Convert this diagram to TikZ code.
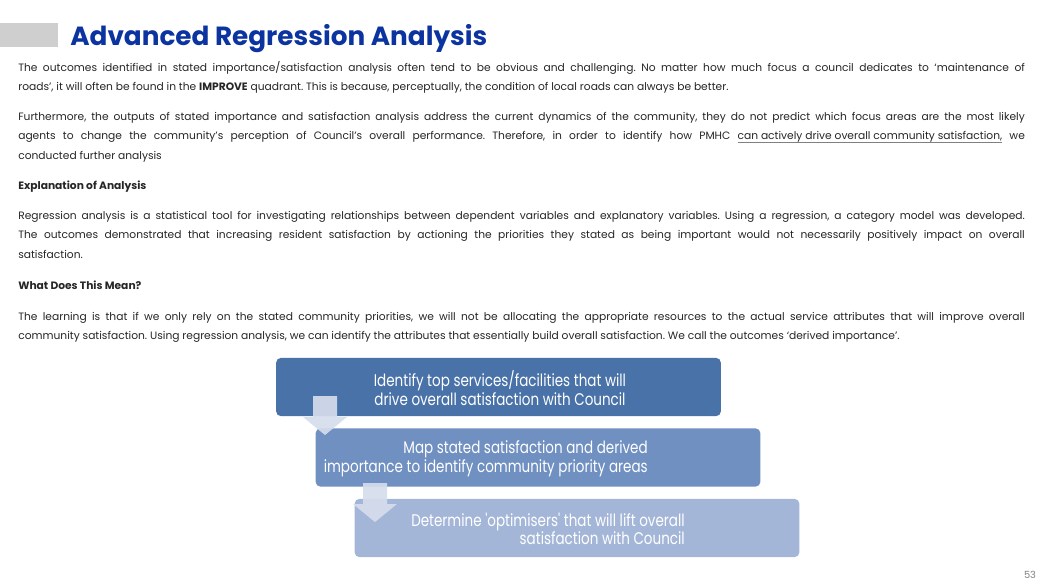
\documentclass[tikz,border=0pt]{standalone}
\usepackage{fontspec}
\setmainfont{Poppins}
\newfontfamily\boxfont{Poppins}[FakeStretch=0.8]
\usepackage{xcolor}
\usetikzlibrary{positioning}
\definecolor{titleblue}{RGB}{12,52,160}
\definecolor{bodygray}{RGB}{38,38,38}
\definecolor{stepA}{RGB}{73,114,168}
\definecolor{stepB}{RGB}{112,144,194}
\definecolor{stepC}{RGB}{164,182,216}
\definecolor{arrowfill}{RGB}{213,221,236}
\frenchspacing
\newsavebox\ulinebox
\newcommand\ulinetext[1]{\sbox\ulinebox{#1}\rlap{\color{gray}\rule[-1.6pt]{\wd\ulinebox}{0.4pt}}\usebox\ulinebox}

\begin{document}
\begin{tikzpicture}[x=0.25mm,y=-0.25mm,
	para/.style={anchor=base west,inner sep=0,text width=716pt,align=justify,
		font=\fontsize{7.6}{14.2}\selectfont,text=bodygray},
	stepbox/.style={rounded corners=3.5pt,minimum width=316.4pt,minimum height=41.5pt,inner sep=0},
	steptext/.style={inner sep=0,text=white,font=\boxfont\fontsize{12}{12.1}\selectfont},
	flowarrow/.style={fill=arrowfill,fill opacity=0.92}]
	\useasboundingbox (0,0) rectangle (1042,586);
	\fill[lightgray!75] (0,23) rectangle (58,47);
	\node[anchor=base west,inner sep=0,text=titleblue,font=\fontsize{18.7}{20}\selectfont\bfseries] (title) at (70,45) {Advanced Regression Analysis};
	\node[para] (p1) at (18,71) {The outcomes identified in stated importance/satisfaction analysis often tend to be obvious and challenging. No matter how much focus a council dedicates to ‘maintenance of\linebreak roads’, it will often be found in the \textbf{IMPROVE} quadrant. This is because, perceptually, the condition of local roads can always be better.};
	\node[para] (p2) at (18,120) {Furthermore, the outputs of stated importance and satisfaction analysis address the current dynamics of the community, they do not predict which focus areas are the most likely\linebreak agents to change the community’s perception of Council’s overall performance. Therefore, in order to identify how PMHC \ulinetext{can actively drive overall community satisfaction,} we\linebreak conducted further analysis};
	\node[para] (h1) at (18,189) {\textbf{Explanation of Analysis}};
	\node[para] (p3) at (18,219) {Regression analysis is a statistical tool for investigating relationships between dependent variables and explanatory variables. Using a regression, a category model was developed.\linebreak The outcomes demonstrated that increasing resident satisfaction by actioning the priorities they stated as being important would not necessarily positively impact on overall\linebreak satisfaction.};
	\node[para] (h2) at (18,289) {\textbf{What Does This Mean?}};
	\node[para] (p4) at (18,320) {The learning is that if we only rely on the stated community priorities, we will not be allocating the appropriate resources to the actual service attributes that will improve overall\linebreak community satisfaction. Using regression analysis, we can identify the attributes that essentially build overall satisfaction. We call the outcomes ‘derived importance’.};
	\node[stepbox,fill=stepA] (step1) at (498.5,387) {};
	\node[stepbox,fill=stepB] (step2) at (538,457.5) {};
	\node[stepbox,fill=stepC] (step3) at (577,528) {};
	\node[steptext,align=center] (t1) at (500,388) {Identify top services/facilities that will\\drive overall satisfaction with Council};
	\node[steptext,align=right,anchor=east] (t2) at (648,458.5) {Map stated satisfaction and derived\\importance to identify community priority areas};
	\node[steptext,align=right,anchor=east] (t3) at (685,529) {Determine 'optimisers' that will lift overall\\satisfaction with Council};
	\foreach \x/\y in {325/396,375/483}
		\fill[flowarrow] (\x-12,\y) -- ++(24,0) -- ++(0,21) -- ++(10,0) -- (\x,\y+39) -- (\x-22,\y+21) -- ++(10,0) -- cycle;
	\node[inner sep=0,text=gray,font=\fontsize{7}{8}\selectfont] (page) at (1030,575) {53};
\end{tikzpicture}
\end{document}
